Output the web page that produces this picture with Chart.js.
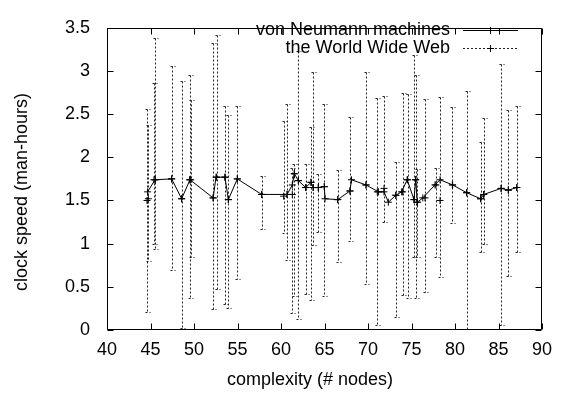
<!DOCTYPE html>
<html>
<head>
<meta charset="utf-8">
<script src="https://cdn.jsdelivr.net/npm/chart.js@4/dist/chart.umd.min.js"></script>
<style>
html, body { margin: 0; padding: 0; background: #fff; }
</style>
</head>
<body>
<canvas id="speedChart" width="567" height="395"></canvas>
<script>
// tick labels
const xTicks = [40, 45, 50, 55, 60, 65, 70, 75, 80, 85, 90];
const yTicks = [0, 0.5, 1, 1.5, 2, 2.5, 3, 3.5];

// von Neumann machines (line with points)
const neumannX = [44.67, 45.52, 47.43, 48.58, 49.54, 52.20, 52.53, 53.56, 53.95, 54.98,
                  57.78, 60.70, 61.30, 61.53, 62.00, 62.84, 63.45, 63.70, 64.29, 64.98,
                  65.06, 66.52, 67.93, 68.10, 69.77, 71.20, 71.84, 72.34, 73.20, 73.87,
                  74.50, 75.29, 75.48, 75.67, 76.30, 77.70, 78.28, 79.73, 81.34, 82.95,
                  83.30, 85.30, 86.13, 87.10];
const neumannY = [1.60, 1.74, 1.75, 1.52, 1.74, 1.53, 1.77, 1.77, 1.51, 1.75,
                  1.57, 1.57, 1.68, 1.81, 1.73, 1.65, 1.71, 1.65, 1.65, 1.66,
                  1.52, 1.51, 1.61, 1.74, 1.68, 1.60, 1.60, 1.48, 1.56, 1.60,
                  1.74, 1.51, 1.74, 1.48, 1.53, 1.68, 1.74, 1.68, 1.59, 1.52,
                  1.57, 1.64, 1.62, 1.65];

// the World Wide Web (points with y error bars)
const webX = [44.60, 44.75, 45.40, 45.55, 47.43, 48.58, 49.50, 49.62, 52.20, 52.60,
              53.56, 53.95, 54.98, 57.78, 60.30, 60.70, 61.30, 61.53, 62.00, 62.84,
              63.45, 63.70, 64.29, 64.98, 66.52, 67.93, 69.77, 71.07, 71.84, 73.20,
              73.98, 74.55, 75.29, 75.48, 75.67, 76.55, 77.80, 78.28, 79.70, 81.34,
              82.95, 83.30, 85.30, 86.13, 87.10];
const webY = [1.50, 1.52, 1.74, 1.74, 1.75, 1.52, 1.74, 1.74, 1.53, 1.77,
              1.77, 1.51, 1.75, 1.57, 1.55, 1.57, 1.57, 1.81, 1.73, 1.65,
              1.71, 1.65, 1.65, 1.66, 1.51, 1.61, 1.68, 1.60, 1.64, 1.56,
              1.60, 1.74, 1.51, 1.74, 1.48, 1.53, 1.68, 1.50, 1.68, 1.59,
              1.52, 1.57, 1.64, 1.62, 1.65];
const webLow = [0.21, 0.80, 1.00, 0.94, 0.70, 0.02, 0.37, 0.85, 0.24, 0.48,
                0.30, 0.26, 0.59, 1.17, 1.12, 0.81, 0.20, 0.39, 0.13, 0.42,
                0.35, 0.98, 1.14, 0.39, 0.79, 1.03, 0.53, 0.06, 1.25, 0.15,
                0.41, 0.37, 0.85, 0.37, 0.85, 0.44, 0.85, 0.61, 1.24, 0.01,
                0.90, 1.00, 0.06, 0.63, 0.90];
const webHigh = [2.56, 2.37, 2.86, 3.38, 3.06, 2.88, 2.95, 2.66, 3.32, 3.42,
                 2.60, 2.49, 2.60, 1.78, 2.42, 2.62, 1.88, 1.92, 3.23, 1.92,
                 2.35, 2.99, 1.81, 2.62, 1.85, 2.47, 2.99, 2.69, 2.71, 1.94,
                 2.74, 2.73, 3.19, 2.95, 1.86, 2.68, 1.88, 2.70, 2.58, 2.77,
                 2.18, 2.45, 3.08, 2.55, 2.60];

const FONT = "'Liberation Sans', Arial, Helvetica, sans-serif";

const errorBars = {
    id: "errorBars",
    beforeDatasetsDraw(chart) {
        const ctx = chart.ctx;
        const xs = chart.scales.x;
        const ys = chart.scales.y;
        const area = chart.chartArea;
        ctx.save();
        ctx.beginPath();
        ctx.rect(area.left, area.top, area.right - area.left, area.bottom - area.top);
        ctx.clip();
        ctx.strokeStyle = "#222";
        ctx.lineWidth = 1;
        ctx.setLineDash([2, 2]);
        webX.forEach((x, i) => {
            const px = Math.round(xs.getPixelForValue(x)) + 0.5;
            const top = Math.round(ys.getPixelForValue(webHigh[i])) + 0.5;
            const bottom = Math.round(ys.getPixelForValue(webLow[i])) + 0.5;
            ctx.beginPath();
            ctx.moveTo(px, top);
            ctx.lineTo(px, bottom);
            ctx.moveTo(px - 2, top);
            ctx.lineTo(px + 3, top);
            ctx.moveTo(px - 2, bottom);
            ctx.lineTo(px + 3, bottom);
            ctx.stroke();
        });
        ctx.restore();
    }
};

const frame = {
    id: "frame",
    afterDraw(chart) {
        const ctx = chart.ctx;
        const xs = chart.scales.x;
        const ys = chart.scales.y;
        const a = chart.chartArea;
        const l = Math.round(a.left) + 0.5, r = Math.round(a.right) - 0.5;
        const t = Math.round(a.top) + 0.5, b = Math.round(a.bottom) - 0.5;
        ctx.save();
        ctx.strokeStyle = "#000";
        ctx.lineWidth = 1;
        ctx.beginPath();
        ctx.rect(l, t, r - l, b - t);
        xTicks.forEach(v => {
            const px = Math.round(xs.getPixelForValue(v)) + 0.5;
            ctx.moveTo(px, b); ctx.lineTo(px, b - 6);
            ctx.moveTo(px, t); ctx.lineTo(px, t + 6);
        });
        yTicks.forEach(v => {
            const py = Math.round(ys.getPixelForValue(v)) + 0.5;
            ctx.moveTo(l, py); ctx.lineTo(l + 6, py);
            ctx.moveTo(r, py); ctx.lineTo(r - 6, py);
        });
        ctx.stroke();

        ctx.font = "18px " + FONT;
        ctx.fillStyle = "#000";
        ctx.textBaseline = "middle";

        // axis titles
        ctx.textAlign = "center";
        ctx.fillText("complexity (# nodes)", 310, 380);
        ctx.save();
        ctx.translate(22, 192);
        ctx.rotate(-Math.PI / 2);
        ctx.fillText("clock speed (man-hours)", 0, 0);
        ctx.restore();

        // key, top right inside the plot
        ctx.textAlign = "right";
        const rows = [
            { text: "von Neumann machines", y: 30, dash: [] },
            { text: "the World Wide Web", y: 48, dash: [2, 2] }
        ];
        rows.forEach(row => {
            ctx.fillText(row.text, 450, row.y);
            ctx.setLineDash(row.dash);
            ctx.strokeStyle = row.dash.length ? "#222" : "#000";
            ctx.beginPath();
            ctx.moveTo(463, row.y + 0.5);
            ctx.lineTo(518, row.y + 0.5);
            ctx.stroke();
            ctx.setLineDash([]);
            ctx.strokeStyle = "#000";
            ctx.beginPath();
            ctx.moveTo(487, row.y + 0.5); ctx.lineTo(494, row.y + 0.5);
            ctx.moveTo(490.5, row.y - 3); ctx.lineTo(490.5, row.y + 4);
            ctx.stroke();
        });
        ctx.restore();
    }
};

const ctx = document.getElementById("speedChart").getContext("2d");
new Chart(ctx, {
    type: "scatter",
    data: {
        datasets: [{
            label: "von Neumann machines",
            data: neumannX.map((x, i) => ({ x: x, y: neumannY[i] })),
            showLine: true,
            borderColor: "#000",
            borderWidth: 1,
            pointStyle: "cross",
            pointRadius: 3.5,
            pointBorderColor: "#000",
            pointBorderWidth: 1,
            fill: false
        }, {
            label: "the World Wide Web",
            data: webX.map((x, i) => ({ x: x, y: webY[i] })),
            showLine: false,
            pointStyle: "cross",
            pointRadius: 3.5,
            pointBorderColor: "#000",
            pointBorderWidth: 1
        }]
    },
    options: {
        responsive: false,
        animation: false,
        devicePixelRatio: 1,
        layout: { padding: { top: 14, right: 25, left: 0, bottom: 0 } },
        plugins: { legend: { display: false }, tooltip: { enabled: false } },
        scales: {
            x: {
                type: "linear",
                min: 40,
                max: 90,
                afterBuildTicks: s => { s.ticks = xTicks.map(v => ({ value: v })); },
                afterFit: s => { s.height = 65; },
                grid: { display: false, drawTicks: false },
                border: { display: false },
                ticks: { color: "#000", font: { family: FONT, size: 18 }, padding: 9, maxRotation: 0 }
            },
            y: {
                type: "linear",
                min: 0,
                max: 3.5,
                afterBuildTicks: s => { s.ticks = yTicks.map(v => ({ value: v })); },
                afterFit: s => { s.width = 107; },
                grid: { display: false, drawTicks: false },
                border: { display: false },
                ticks: { color: "#000", font: { family: FONT, size: 18 }, padding: 17,
                         callback: value => String(value) }
            }
        }
    },
    plugins: [errorBars, frame]
});
</script>
</body>
</html>
